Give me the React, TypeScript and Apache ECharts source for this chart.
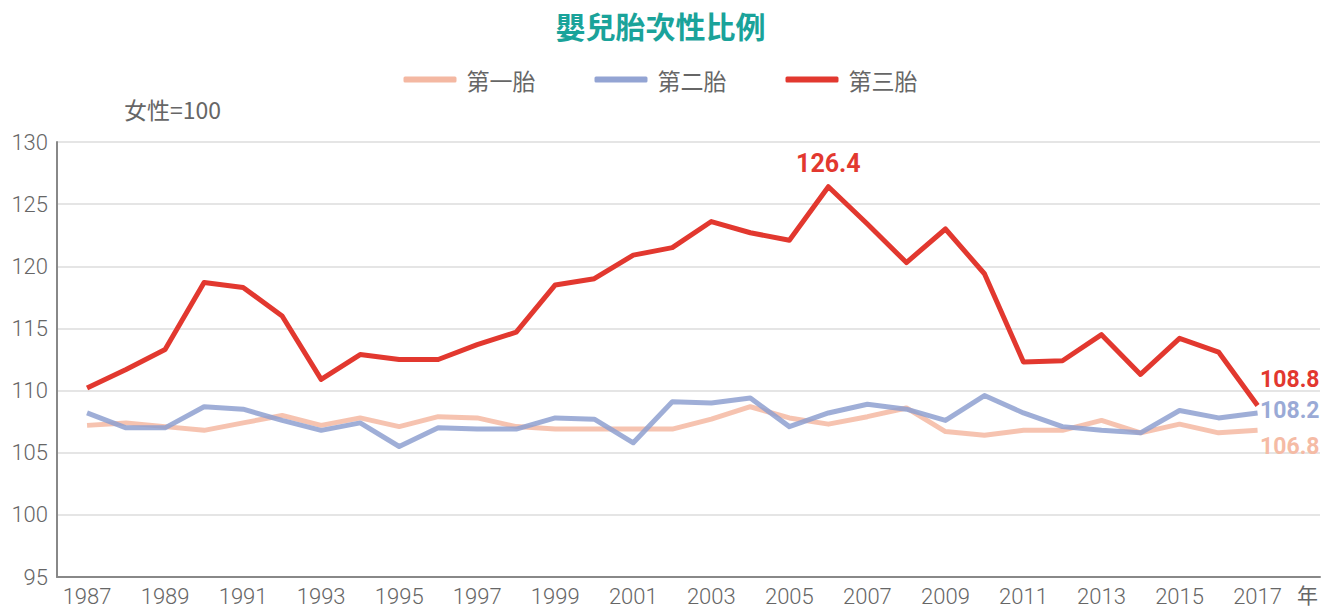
import React, { useEffect, useRef } from "react";
import * as echarts from "echarts";

const years = [
  1987, 1988, 1989, 1990, 1991, 1992, 1993, 1994, 1995, 1996, 1997, 1998, 1999, 2000, 2001,
  2002, 2003, 2004, 2005, 2006, 2007, 2008, 2009, 2010, 2011, 2012, 2013, 2014, 2015, 2016, 2017,
];
const firstBirth = [
  107.2, 107.4, 107.1, 106.8, 107.4, 108.0, 107.2, 107.8, 107.1, 107.9, 107.8, 107.1, 106.9, 106.9, 106.9,
  106.9, 107.7, 108.7, 107.8, 107.3, 107.9, 108.6, 106.7, 106.4, 106.8, 106.8, 107.6, 106.6, 107.3, 106.6, 106.8,
];
const secondBirth = [
  108.2, 107.0, 107.0, 108.7, 108.5, 107.6, 106.8, 107.4, 105.5, 107.0, 106.9, 106.9, 107.8, 107.7, 105.8,
  109.1, 109.0, 109.4, 107.1, 108.2, 108.9, 108.5, 107.6, 109.6, 108.2, 107.1, 106.8, 106.6, 108.4, 107.8, 108.2,
];
const thirdBirth = [
  110.2, 111.7, 113.3, 118.7, 118.3, 116.0, 110.9, 112.9, 112.5, 112.5, 113.7, 114.7, 118.5, 119.0, 120.9,
  121.5, 123.6, 122.7, 122.1, 126.4, 123.4, 120.3, 123.0, 119.4, 112.3, 112.4, 114.5, 111.3, 114.2, 113.1, 108.8,
];
const seriesNames = ["第一胎", "第二胎", "第三胎"];
const xLabelYears = [1987, 1989, 1991, 1993, 1995, 1997, 1999, 2001, 2003, 2005, 2007, 2009, 2011, 2013, 2015, 2017];
const titleText = "嬰兒胎次性比例";
const yUnit = "女性=100";
const xUnit = "年";

const numFont = "Roboto, sans-serif";
const labelFont = "Roboto, 'Noto Sans CJK TC', sans-serif";
const cjkFont = "'Noto Sans CJK TC', sans-serif";

export default function App() {
  const ref = useRef<HTMLDivElement>(null);

  useEffect(() => {
    document.body.style.margin = "0";
    if (!ref.current) return;
    const chart = echarts.init(ref.current, undefined, { renderer: "svg" });

    const toPairs = (vals: number[]) => years.map((y, i) => [y, vals[i]]);

    const endLabel = (color: string, dy: number) => ({
      show: true,
      formatter: (p: any) => p.value[1].toFixed(1),
      fontFamily: numFont,
      fontWeight: "bold",
      fontSize: 23,
      color,
      distance: 0,
      align: "right",
      offset: [62, dy],
    });

    chart.setOption({
      animation: false,
      backgroundColor: "#ffffff",
      title: {
        text: titleText,
        left: "center",
        top: 5,
        textStyle: {
          fontFamily: cjkFont,
          fontSize: 30,
          fontWeight: "bold",
          color: "#1aa39a",
        },
      },
      legend: {
        top: 63,
        left: "center",
        icon: "roundRect",
        itemWidth: 53,
        itemHeight: 6,
        itemGap: 59,
        textStyle: {
          fontFamily: cjkFont,
          fontSize: 23,
          color: "#666666",
          padding: [0, 0, 0, 5],
        },
        data: seriesNames,
      },
      grid: { left: 57, right: 1, top: 142, bottom: 32, containLabel: false },
      xAxis: {
        type: "value",
        min: 1986.23,
        max: 2018.6,
        name: xUnit,
        nameLocation: "end",
        nameGap: -23,
        nameTextStyle: {
          fontFamily: cjkFont,
          fontSize: 21,
          color: "#666666",
          verticalAlign: "top",
          padding: [7, 0, 0, 0],
        },
        axisLine: { show: true, lineStyle: { color: "#888888", width: 2 } },
        axisTick: { show: false },
        splitLine: { show: false },
        axisLabel: {
          customValues: xLabelYears,
          formatter: (v: number) => String(v),
          fontFamily: labelFont,
          fontWeight: 300,
          fontSize: 22,
          color: "#666666",
          margin: 8,
        },
      },
      yAxis: {
        type: "value",
        min: 95,
        max: 130,
        interval: 5,
        name: yUnit,
        nameLocation: "end",
        nameGap: 22,
        nameTextStyle: {
          fontFamily: cjkFont,
          fontSize: 23,
          color: "#666666",
          align: "left",
          padding: [0, 0, 0, 67],
        },
        axisLine: { show: true, lineStyle: { color: "#888888", width: 2 } },
        axisTick: { show: false },
        splitLine: { show: true, lineStyle: { color: "#dddddd", width: 1.5 } },
        axisLabel: {
          fontFamily: labelFont,
          fontWeight: 300,
          fontSize: 22,
          color: "#666666",
          margin: 9,
        },
      },
      series: [
        {
          name: seriesNames[0],
          type: "line",
          data: toPairs(firstBirth),
          showSymbol: false,
          symbol: "none",
          color: "#f4b8a2",
          lineStyle: { width: 5, color: "#f4b8a2", opacity: 0.85, join: "round" },
          endLabel: endLabel("#f5bba5", 16),
          z: 2,
        },
        {
          name: seriesNames[1],
          type: "line",
          data: toPairs(secondBirth),
          showSymbol: false,
          symbol: "none",
          color: "#93a4d3",
          lineStyle: { width: 5, color: "#8ea0d0", opacity: 0.85, join: "round" },
          endLabel: endLabel("#9aaad6", -2),
          z: 3,
        },
        {
          name: seriesNames[2],
          type: "line",
          data: toPairs(thirdBirth),
          showSymbol: false,
          symbol: "none",
          color: "#e2382f",
          lineStyle: { width: 5, color: "#e2382f", join: "round" },
          endLabel: endLabel("#e2382f", -26),
          markPoint: {
            symbol: "circle",
            symbolSize: 1,
            itemStyle: { color: "rgba(0,0,0,0)" },
            data: [{ type: "max" }],
            label: {
              show: true,
              position: "top",
              distance: 10,
              formatter: (p: any) => Number(p.value).toFixed(1),
              fontFamily: numFont,
              fontWeight: "bold",
              fontSize: 25,
              color: "#e2382f",
            },
          },
          z: 4,
        },
      ],
    });

    return () => chart.dispose();
  }, []);

  return <div ref={ref} style={{ width: 1321, height: 609 }} />;
}
